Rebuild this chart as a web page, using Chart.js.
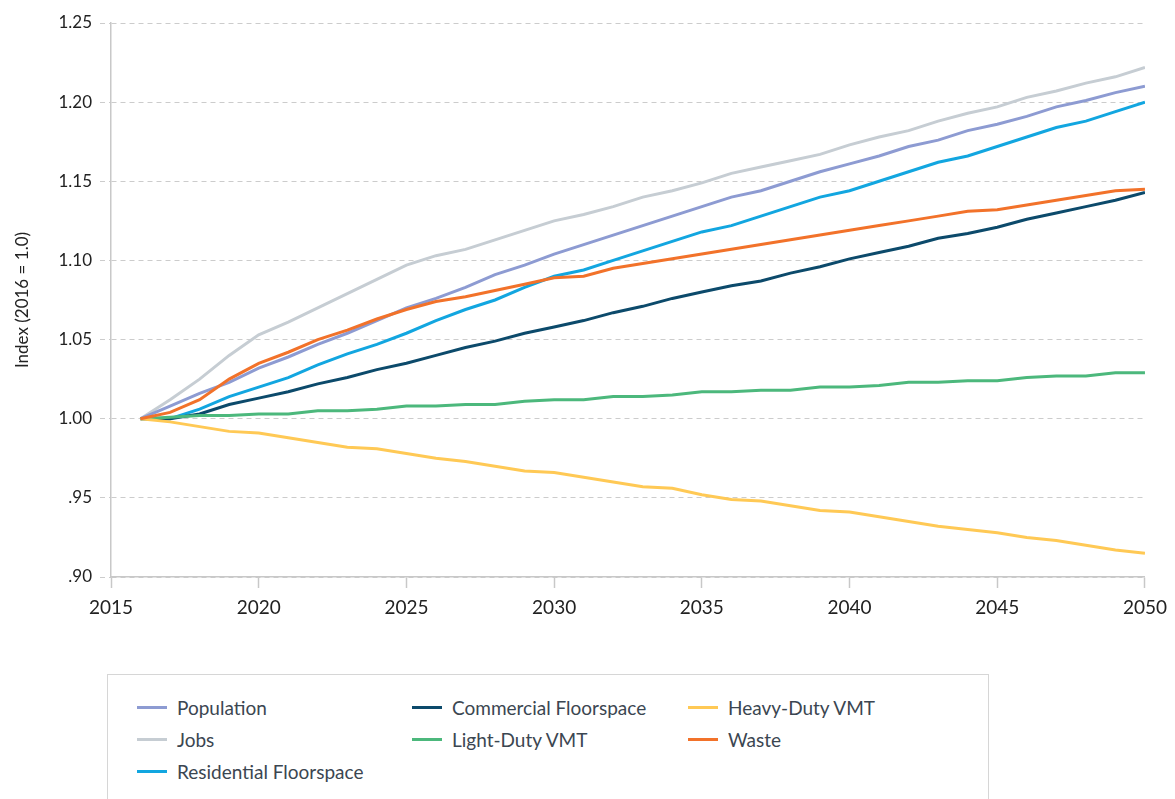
<!DOCTYPE html>
<html>
<head>
<meta charset="utf-8">
<script src="https://cdn.jsdelivr.net/npm/chart.js@4.4.0/dist/chart.umd.min.js"></script>
<style>
  body { margin: 0; background: #fff; font-family: Lato, "Noto Sans", sans-serif; }
  #wrap { position: absolute; left: 0; top: 0; width: 1175px; height: 640px; }
  #legend {
    position: absolute; left: 107px; top: 674px; width: 882px; height: 140px;
    border: 1px solid #d6d6d6; box-sizing: border-box;
  }
  .item { position: absolute; display: flex; align-items: center; font-size: 19px; color: #3b4651; white-space: nowrap; }
  .item span.sw { display: inline-block; width: 30px; height: 3px; margin-right: 10px; }
</style>
</head>
<body>
<div id="wrap"><canvas id="chart"></canvas></div>
<div id="legend"></div>
<script>
  const years = [];
  for (let y = 2016; y <= 2050; y++) years.push(y);

  const population = [1.000, 1.008, 1.016, 1.023, 1.032, 1.039, 1.047, 1.054, 1.062, 1.070,
    1.076, 1.083, 1.091, 1.097, 1.104, 1.110, 1.116, 1.122, 1.128, 1.134,
    1.140, 1.144, 1.150, 1.156, 1.161, 1.166, 1.172, 1.176, 1.182, 1.186,
    1.191, 1.197, 1.201, 1.206, 1.210];
  const jobs = [1.000, 1.012, 1.025, 1.040, 1.053, 1.061, 1.070, 1.079, 1.088, 1.097,
    1.103, 1.107, 1.113, 1.119, 1.125, 1.129, 1.134, 1.140, 1.144, 1.149,
    1.155, 1.159, 1.163, 1.167, 1.173, 1.178, 1.182, 1.188, 1.193, 1.197,
    1.203, 1.207, 1.212, 1.216, 1.222];
  const residential = [1.000, 1.000, 1.006, 1.014, 1.020, 1.026, 1.034, 1.041, 1.047, 1.054,
    1.062, 1.069, 1.075, 1.083, 1.090, 1.094, 1.100, 1.106, 1.112, 1.118,
    1.122, 1.128, 1.134, 1.140, 1.144, 1.150, 1.156, 1.162, 1.166, 1.172,
    1.178, 1.184, 1.188, 1.194, 1.200];
  const commercial = [1.000, 1.000, 1.003, 1.009, 1.013, 1.017, 1.022, 1.026, 1.031, 1.035,
    1.040, 1.045, 1.049, 1.054, 1.058, 1.062, 1.067, 1.071, 1.076, 1.080,
    1.084, 1.087, 1.092, 1.096, 1.101, 1.105, 1.109, 1.114, 1.117, 1.121,
    1.126, 1.130, 1.134, 1.138, 1.143];
  const lightDuty = [1.000, 1.001, 1.002, 1.002, 1.003, 1.003, 1.005, 1.005, 1.006, 1.008,
    1.008, 1.009, 1.009, 1.011, 1.012, 1.012, 1.014, 1.014, 1.015, 1.017,
    1.017, 1.018, 1.018, 1.020, 1.020, 1.021, 1.023, 1.023, 1.024, 1.024,
    1.026, 1.027, 1.027, 1.029, 1.029];
  const heavyDuty = [1.000, 0.998, 0.995, 0.992, 0.991, 0.988, 0.985, 0.982, 0.981, 0.978,
    0.975, 0.973, 0.970, 0.967, 0.966, 0.963, 0.960, 0.957, 0.956, 0.952,
    0.949, 0.948, 0.945, 0.942, 0.941, 0.938, 0.935, 0.932, 0.930, 0.928,
    0.925, 0.923, 0.920, 0.917, 0.915];
  const waste = [1.000, 1.004, 1.012, 1.025, 1.035, 1.042, 1.050, 1.056, 1.063, 1.069,
    1.074, 1.077, 1.081, 1.085, 1.089, 1.090, 1.095, 1.098, 1.101, 1.104,
    1.107, 1.110, 1.113, 1.116, 1.119, 1.122, 1.125, 1.128, 1.131, 1.132,
    1.135, 1.138, 1.141, 1.144, 1.145];

  const yTickValues = [0.90, 0.95, 1.00, 1.05, 1.10, 1.15, 1.20, 1.25];
  const yTickLabels = ['.90', '.95', '1.00', '1.05', '1.10', '1.15', '1.20', '1.25'];

  const series = [
    { label: 'Population', data: population, color: '#8d9bd2', col: 0, row: 0 },
    { label: 'Jobs', data: jobs, color: '#c6cdd3', col: 0, row: 1 },
    { label: 'Residential Floorspace', data: residential, color: '#12a6e0', col: 0, row: 2 },
    { label: 'Commercial Floorspace', data: commercial, color: '#0c4a6b', col: 1, row: 0 },
    { label: 'Light-Duty VMT', data: lightDuty, color: '#4cb87c', col: 1, row: 1 },
    { label: 'Heavy-Duty VMT', data: heavyDuty, color: '#ffc955', col: 2, row: 0 },
    { label: 'Waste', data: waste, color: '#f2722a', col: 2, row: 1 }
  ];

  const drawOrder = [5, 6, 7, 4, 3, 2, 1];

  const chart = new Chart(document.getElementById('chart'), {
    type: 'line',
    data: {
      datasets: series.map((s, i) => ({
        label: s.label,
        data: s.data.map((v, k) => ({ x: years[k], y: v })),
        borderColor: s.color,
        backgroundColor: s.color,
        borderWidth: 3,
        pointRadius: 0,
        tension: 0,
        order: drawOrder[i]
      }))
    },
    options: {
      responsive: true,
      maintainAspectRatio: false,
      animation: false,
      layout: { padding: { top: 23, right: 28, left: 0, bottom: 0 } },
      plugins: { legend: { display: false }, tooltip: { enabled: false } },
      scales: {
        x: {
          type: 'linear',
          min: 2015,
          max: 2050,
          afterFit: s => { s.height = 63; },
          ticks: { stepSize: 5, color: '#222', padding: 8, font: { family: 'Lato', size: 19 },
            callback: v => String(v), maxRotation: 0 },
          grid: { drawOnChartArea: false, drawTicks: true, tickLength: 11, color: '#c8c8c8', tickWidth: 1.5 },
          border: { color: '#c8c8c8', width: 1.5 }
        },
        y: {
          min: 0.9,
          max: 1.25,
          afterFit: s => { s.width = 111; },
          afterBuildTicks: s => { s.ticks = yTickValues.map(v => ({ value: v })); },
          ticks: { color: '#222', padding: 8, font: { family: 'Lato', size: 17 },
            callback: (v) => yTickLabels[yTickValues.findIndex(t => Math.abs(t - v) < 1e-6)] },
          grid: { color: '#cccccc', lineWidth: 1, tickLength: 11, tickBorderDash: [5, 4] },
          border: { color: '#c8c8c8', width: 1.5, dash: [5, 4] },
          title: { display: true, text: 'Index (2016 = 1.0)', color: '#222', padding: { top: 12, bottom: 10 },
            font: { family: 'Lato', size: 17 } }
        }
      }
    }
  });

  const legend = document.getElementById('legend');
  const colX = [29, 304, 580];
  const rowY = [32, 64, 96];
  series.forEach(s => {
    const el = document.createElement('div');
    el.className = 'item';
    el.style.left = colX[s.col] + 'px';
    el.style.top = (rowY[s.row] - 12) + 'px';
    el.style.height = '24px';
    el.innerHTML = '<span class="sw" style="background:' + s.color + '"></span>' + s.label;
    legend.appendChild(el);
  });
</script>
</body>
</html>
